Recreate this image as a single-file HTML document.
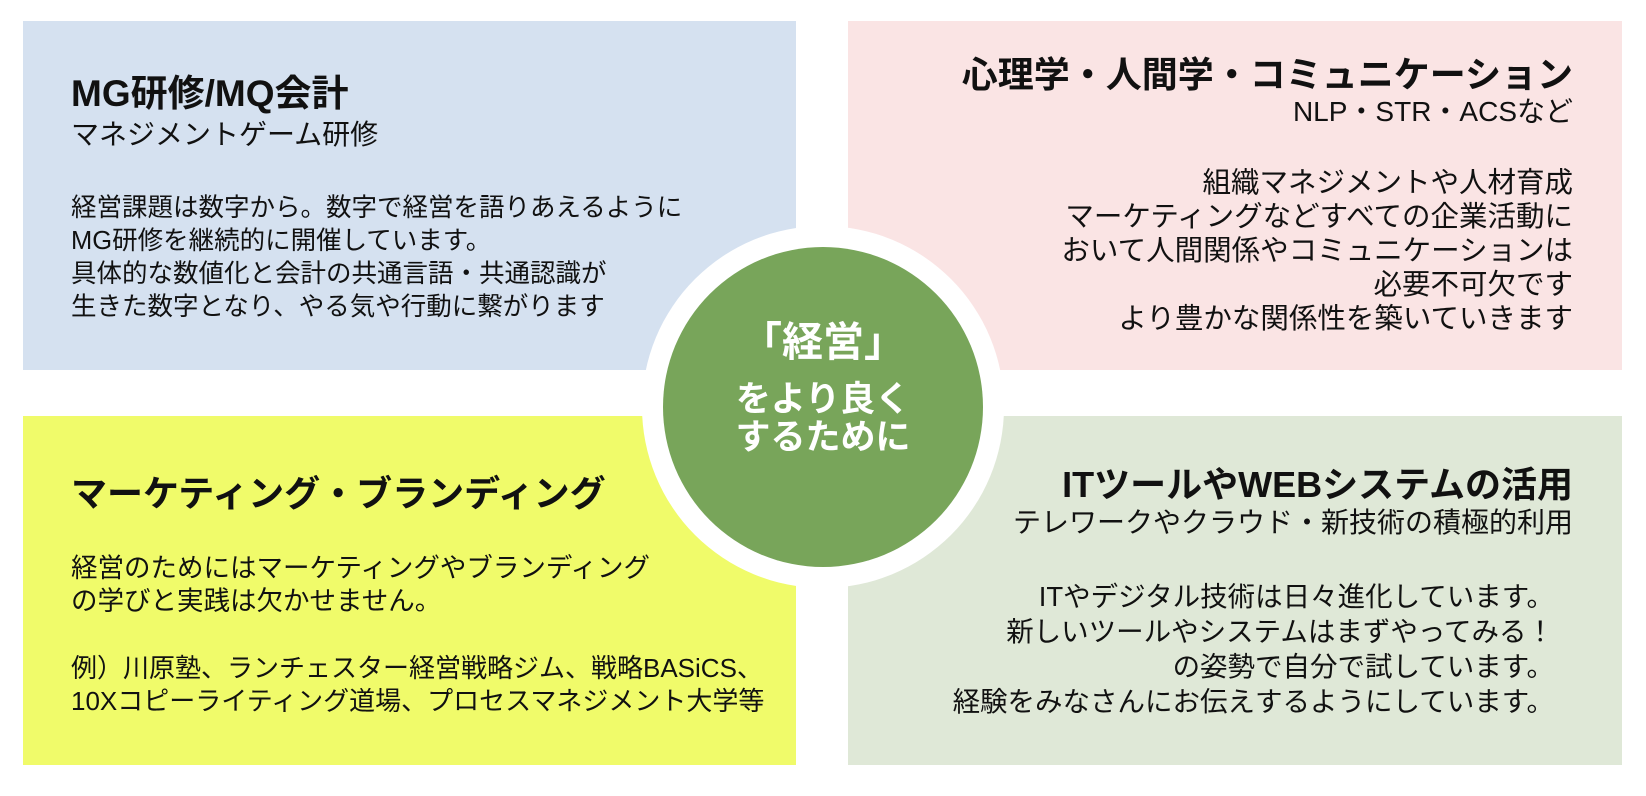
<!DOCTYPE html>
<html><head><meta charset="utf-8"><style>
body{margin:0;width:1646px;height:796px;background:#fff;position:relative;overflow:hidden;font-family:"Liberation Sans","Noto Sans CJK JP",sans-serif;color:#111}
.b{position:absolute}
.t{position:absolute;white-space:nowrap}
.h{font-weight:bold;font-size:36px}
.s{font-size:28px}
.p{font-size:25.5px;line-height:33px}
.r{text-align:right}
</style></head><body>
<div class="b" style="left:23px;top:21px;width:773px;height:349px;background:#d5e1f0"></div>
<div class="b" style="left:848px;top:21px;width:774px;height:349px;background:#fae4e4"></div>
<div class="b" style="left:23px;top:416px;width:773px;height:349px;background:#f0fb6a"></div>
<div class="b" style="left:848px;top:416px;width:774px;height:349px;background:#dfe8d7"></div>
<div class="b" style="left:642px;top:226px;width:362px;height:362px;border-radius:50%;background:#fff"></div>
<div class="b" style="left:663px;top:247px;width:320px;height:320px;border-radius:50%;background:#78a55a"></div>

<div class="t h" style="left:71px;top:76px;line-height:36px;font-size:37px">MG研修/MQ会計</div>
<div class="t s" style="left:71px;top:118px;line-height:34px">マネジメントゲーム研修</div>
<div class="t p" style="left:71px;top:192px">経営課題は数字から。数字で経営を語りあえるように<br>MG研修を継続的に開催しています。<br>具体的な数値化と会計の共通言語・共通認識が<br>生きた数字となり、やる気や行動に繋がります</div>

<div class="t h r" style="right:73px;top:57px;line-height:36px">心理学・人間学・コミュニケーション</div>
<div class="t s r" style="right:73px;top:95px;line-height:34px">NLP・STR・ACSなど</div>
<div class="t p r" style="right:73px;top:166px;line-height:34px;font-size:28.5px">組織マネジメントや人材育成<br>マーケティングなどすべての企業活動に<br>おいて人間関係やコミュニケーションは<br>必要不可欠です<br>より豊かな関係性を築いていきます</div>

<div class="t h" style="left:71px;top:476px;line-height:36px">マーケティング・ブランディング</div>
<div class="t p" style="left:71px;top:552px;font-size:26.5px">経営のためにはマーケティングやブランディング<br>の学びと実践は欠かせません。</div>
<div class="t p" style="left:71px;top:652px;font-size:26px">例）川原塾、ランチェスター経営戦略ジム、戦略BASiCS、<br>10Xコピーライティング道場、プロセスマネジメント大学等</div>

<div class="t h r" style="right:73px;top:467px;line-height:36px">ITツールやWEBシステムの活用</div>
<div class="t s r" style="right:73px;top:506px;line-height:34px">テレワークやクラウド・新技術の積極的利用</div>
<div class="t p r" style="right:92px;top:579px;line-height:35px;font-size:27.5px">ITやデジタル技術は日々進化しています。<br>新しいツールやシステムはまずやってみる！<br>の姿勢で自分で試しています。<br>経験をみなさんにお伝えするようにしています。</div>

<div class="t" style="left:663px;width:320px;top:320px;text-align:center;color:#fff;font-weight:bold;font-size:41px;line-height:44px">「経営」</div>
<div class="t" style="left:663px;width:320px;top:381px;text-align:center;color:#fff;font-weight:bold;font-size:35px;line-height:38px">をより良く<br>するために</div>
</body></html>
